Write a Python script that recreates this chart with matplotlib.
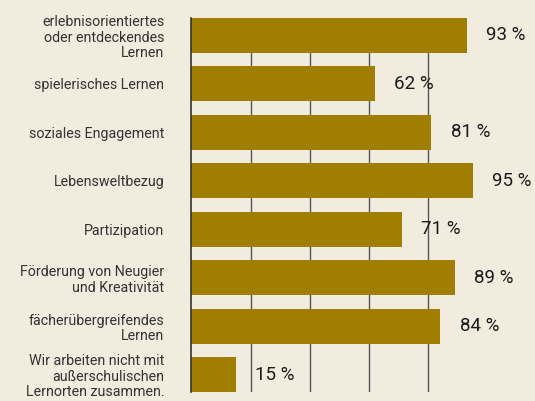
import matplotlib.pyplot as plt

# data
categories = [
    "erlebnisorientiertes\noder entdeckendes\nLernen",
    "spielerisches Lernen",
    "soziales Engagement",
    "Lebensweltbezug",
    "Partizipation",
    "Förderung von Neugier\nund Kreativität",
    "fächerübergreifendes\nLernen",
    "Wir arbeiten nicht mit\naußerschulischen\nLernorten zusammen.",
]
values = [93, 62, 81, 95, 71, 89, 84, 15]
grid_ticks = [20, 40, 60, 80]

bg = "#f2ecdf"
bar_color = "#a07f00"

plt.rcParams['font.family'] = ['Roboto', 'DejaVu Sans']

fig = plt.figure(figsize=(5.35, 4.01), dpi=100, facecolor=bg)
ax = fig.add_axes([0.3576, 0.0224, 0.5535, 0.9327])
ax.set_facecolor(bg)

y = list(range(len(values)))
ax.barh(y, values, height=0.72, color=bar_color, zorder=2)

ax.set_xlim(0, 100)
ax.set_ylim(len(values) - 1 + 0.36, -0.36)

ax.set_xticks(grid_ticks)
ax.xaxis.grid(True, color="#555555", linewidth=1.0, zorder=1)
ax.tick_params(axis='x', length=0, labelbottom=False)

ax.set_yticks(y)
ax.set_yticklabels(categories, fontsize=10.3, color="#333333", linespacing=1.12)
ax.tick_params(axis='y', length=0, pad=19.5)

for s in ['top', 'right', 'bottom']:
    ax.spines[s].set_visible(False)
ax.spines['left'].set_color("#333333")
ax.spines['left'].set_linewidth(1.2)

for yi, v in zip(y, values):
    ax.annotate(f"{v} %", xy=(v, yi), xytext=(14, 0), textcoords='offset points',
                va='center', ha='left', fontsize=13.5, color="#1a1a1a")

fig.savefig("out.png", dpi=100, facecolor=bg)
